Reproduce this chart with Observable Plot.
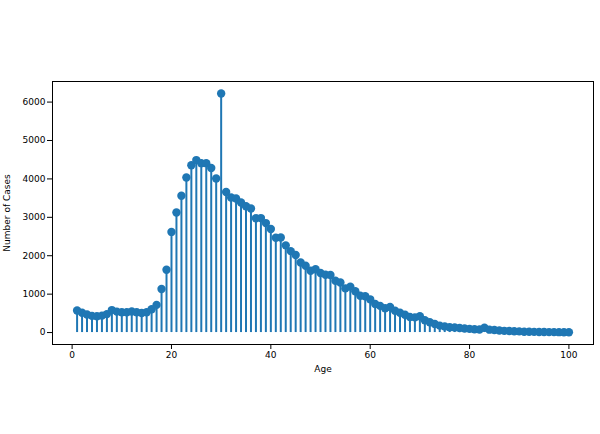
<!DOCTYPE html>
<html>
<head>
<meta charset="utf-8">
<script src="https://cdn.jsdelivr.net/npm/d3@7"></script>
<script src="https://cdn.jsdelivr.net/npm/@observablehq/plot@0.6"></script>
<style>
  html, body { margin: 0; padding: 0; background: #fff; }
  #chart svg { display: block; }
</style>
</head>
<body>
<div id="chart"></div>
<script>
const ages = [1,2,3,4,5,6,7,8,9,10,11,12,13,14,15,16,17,18,19,20,
  21,22,23,24,25,26,27,28,29,30,31,32,33,34,35,36,37,38,39,40,
  41,42,43,44,45,46,47,48,49,50,51,52,53,54,55,56,57,58,59,60,
  61,62,63,64,65,66,67,68,69,70,71,72,73,74,75,76,77,78,79,80,
  81,82,83,84,85,86,87,88,89,90,91,92,93,94,95,96,97,98,99,100];
const cases = [575,515,470,435,425,440,480,585,545,530,530,550,530,510,530,605,720,1135,1635,2620,
  3125,3560,4035,4355,4490,4410,4410,4285,4010,6225,3660,3515,3490,3385,3290,3230,2975,2980,2850,2695,
  2470,2475,2270,2120,2020,1825,1740,1610,1650,1550,1505,1500,1350,1305,1150,1195,1075,960,945,865,
  745,695,635,665,570,515,465,405,395,425,320,270,225,180,160,140,130,120,105,95,
  85,80,125,75,65,55,45,40,35,30,22,20,18,15,14,12,11,10,9,8];
const xTicks = [0,20,40,60,80,100];
const yTicks = [0,1000,2000,3000,4000,5000,6000];
const xLabel = "Age";
const yLabel = "Number of Cases";

const data = ages.map((a, i) => ({age: a, cases: cases[i]}));
const color = "#1f77b4";

const chart = Plot.plot({
  width: 600,
  height: 434,
  marginLeft: 52,
  marginRight: 7,
  marginTop: 81,
  marginBottom: 90,
  style: {fontFamily: "DejaVu Sans", fontSize: "9px", color: "#000", background: "#fff"},
  x: {domain: [-3.95, 104.95]},
  y: {domain: [-311, 6536]},
  marks: [
    Plot.ruleX(data, {x: "age", y1: 0, y2: "cases", stroke: color, strokeWidth: 2}),
    Plot.dot(data, {x: "age", y: "cases", r: 4.2, fill: color, stroke: "none"}),
    Plot.frame({stroke: "#000", strokeWidth: 1}),
    Plot.axisX({ticks: xTicks, tickFormat: d => String(d), tickSize: 5, tickPadding: 2, label: null, stroke: "#000", fontSize: 9}),
    Plot.axisY({ticks: yTicks, tickFormat: d => String(d), tickSize: 5, tickPadding: 2, label: null, stroke: "#000", fontSize: 9}),
    Plot.text([xLabel], {frameAnchor: "bottom", dy: 25, lineAnchor: "middle", textAnchor: "middle", fill: "#000", fontSize: 9}),
    Plot.text([yLabel], {frameAnchor: "left", dx: -45, rotate: -90, textAnchor: "middle", lineAnchor: "middle", fill: "#000", fontSize: 9})
  ]
});
document.getElementById("chart").appendChild(chart);
</script>
</body>
</html>
